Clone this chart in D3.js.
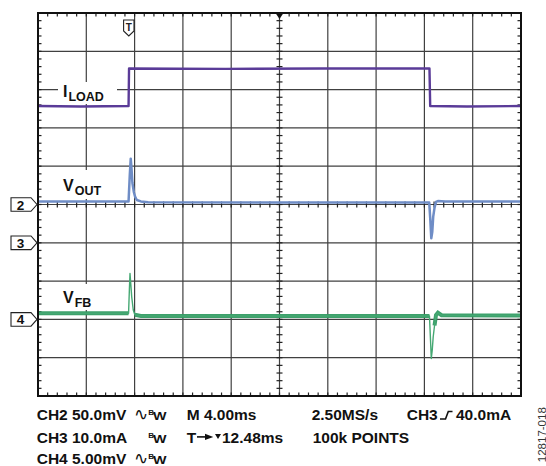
<!DOCTYPE html>
<html>
<head>
<meta charset="utf-8">
<script src="https://cdn.jsdelivr.net/npm/d3@7"></script>
<style>
  html, body { margin: 0; padding: 0; background: #fff; }
  svg { display: block; }
  text { font-family: "Liberation Sans", Arial, Helvetica, sans-serif; }
</style>
</head>
<body>
<svg id="scope" width="546" height="466"></svg>
<script>
// ---- Channel readings (time in ms from trigger) ----
// CH3: load current, mA
const iloadT = [-7.52, -4.0, -0.02, 0.02, 8.0, 16.0, 24.90, 24.96, 28.0, 32.48];
const iloadV = [35.7, 35.6, 35.7, 45.5, 45.4, 45.5, 45.5, 35.7, 35.6, 35.7];

// CH2: output voltage (AC coupled), mV
const voutT = [-7.52, -0.02, 0.08, 0.16, 0.22, 0.30, 0.42, 0.52, 0.66, 1.0, 1.6,
               24.88, 24.97, 25.05, 25.13, 25.21, 25.32, 25.44, 25.6, 26.2, 32.48];
const voutV = [4.0, 4.0, 38, 59.8, 48, 28.1, 16, 10.2, 5.9, 4.0, 2.8,
               2.6, -20, -44.1, -36, -15.9, -4, 3.3, 4.5, 4.0, 4.0];

// CH4: feedback voltage (AC coupled), mV
const vfbT = [-7.52, -0.02, 0.05, 0.10, 0.17, 0.24, 0.37, 0.5, 1.0,
              24.90, 24.98, 25.05, 25.13, 25.21, 25.32, 25.44, 25.6, 25.9, 32.48];
const vfbV = [0.8, 0.8, 4.0, 6.0, 4.5, 2.96, 1.23, 0.6, 0.45,
              0.45, -2.5, -5.1, -4.0, -2.26, -0.8, 0.57, 0.87, 0.55, 0.5];

// Channel settings: ground marker position (divisions from centre) and units per division
const channelNames = ["2", "3", "4"];
const channelOffsets = [0, -1, -3];
const channelScales = [50, 10, 5];   // mV/div, mA/div, mV/div

// Readout lines under the screen
const readoutRow1 = ["CH2 50.0mV", "M 4.00ms", "2.50MS/s", "CH3", "40.0mA"];
const readoutRow2 = ["CH3 10.0mA", "T", "12.48ms", "100k POINTS"];
const readoutRow3 = ["CH4 5.00mV"];
const timeWindow = [-7.52, 32.48];   // ms across the screen

// ---- Layout ----
const L = 38, R = 521, T = 13, B = 396;
const svg = d3.select("#scope");

const xDiv = d3.scaleLinear().domain([0, 10]).range([L, R]);
const yDiv = d3.scaleLinear().domain([-5, 5]).range([B, T]);
const xTime = d3.scaleLinear().domain(timeWindow).range([L, R]);
const chanY = (i) => d3.scaleLinear()
  .domain([0, channelScales[i]])
  .range([yDiv(channelOffsets[i]), yDiv(channelOffsets[i] + 1)]);

const yVout = chanY(0), yIload = chanY(1), yVfb = chanY(2);

const gridColor = "#404040";

// graticule lines
const grid = svg.append("g");
grid.selectAll("line.v").data(d3.range(1, 10)).join("line")
  .attr("x1", d => xDiv(d)).attr("x2", d => xDiv(d))
  .attr("y1", T).attr("y2", B)
  .attr("stroke", gridColor).attr("stroke-width", 1.2);
grid.selectAll("line.h").data(d3.range(-4, 5)).join("line")
  .attr("x1", L).attr("x2", R)
  .attr("y1", d => yDiv(d)).attr("y2", d => yDiv(d))
  .attr("stroke", gridColor).attr("stroke-width", 1.2);

// minor ticks (5 per division)
const ticks = svg.append("g").attr("stroke", "#222").attr("stroke-width", 1.2);
const xMinor = d3.range(1, 50).map(i => xDiv(i / 5));
const yMinor = d3.range(-24, 25).map(i => yDiv(i / 5));
const tl = 3.5;
xMinor.forEach(x => {
  ticks.append("line").attr("x1", x).attr("x2", x).attr("y1", T).attr("y2", T + tl);
  ticks.append("line").attr("x1", x).attr("x2", x).attr("y1", B).attr("y2", B - tl);
  ticks.append("line").attr("x1", x).attr("x2", x).attr("y1", yDiv(0) - 3).attr("y2", yDiv(0) + 3);
});
yMinor.forEach(y => {
  ticks.append("line").attr("x1", L).attr("x2", L + tl).attr("y1", y).attr("y2", y);
  ticks.append("line").attr("x1", R).attr("x2", R - tl).attr("y1", y).attr("y2", y);
  ticks.append("line").attr("x1", xDiv(5) - 3).attr("x2", xDiv(5) + 3).attr("y1", y).attr("y2", y);
});

// white backing behind trace labels
const boxes = [
  {x: 58, y: 82, w: 59, h: 22},
  {x: 46, y: 170, w: 64, h: 29},
  {x: 46, y: 284, w: 64, h: 26}
];
svg.append("g").selectAll("rect").data(boxes).join("rect")
  .attr("x", d => d.x).attr("y", d => d.y).attr("width", d => d.w).attr("height", d => d.h)
  .attr("fill", "#fff");

// traces
svg.append("clipPath").attr("id", "plotClip")
  .append("rect").attr("x", L).attr("y", T).attr("width", R - L).attr("height", B - T);
const traces = svg.append("g").attr("clip-path", "url(#plotClip)");

const zipPts = (ts, vs) => ts.map((t, i) => ({t, v: vs[i]}));

const iloadLine = d3.line().x(d => xTime(d.t)).y(d => yIload(d.v));
traces.append("path").datum(zipPts(iloadT, iloadV))
  .attr("d", iloadLine).attr("fill", "none")
  .attr("stroke", "#5a3b98").attr("stroke-width", 2.4).attr("stroke-linejoin", "round");

const voutLine = d3.line().x(d => xTime(d.t)).y(d => yVout(d.v));
traces.append("path").datum(zipPts(voutT, voutV))
  .attr("d", voutLine).attr("fill", "none")
  .attr("stroke", "#6f8dc6").attr("stroke-width", 2.5).attr("stroke-linejoin", "round");

// feedback trace: noisy baseline band plus the thin trace through the transients
const vfbPts = zipPts(vfbT, vfbV);
const vfbBand = d3.line().x(d => xTime(d.t)).y(d => yVfb(d.v)).defined(d => Math.abs(d.v) < 0.9);
traces.append("path").datum(vfbPts)
  .attr("d", vfbBand).attr("fill", "none")
  .attr("stroke", "#339b63").attr("stroke-width", 4).attr("stroke-opacity", 0.95);
const vfbLine = d3.line().x(d => xTime(d.t)).y(d => yVfb(d.v));
traces.append("path").datum(vfbPts)
  .attr("d", vfbLine).attr("fill", "none")
  .attr("stroke", "#45a873").attr("stroke-width", 1.4).attr("stroke-linejoin", "round");

// screen border
svg.append("rect").attr("x", L).attr("y", T).attr("width", R - L).attr("height", B - T)
  .attr("fill", "none").attr("stroke", "#111").attr("stroke-width", 2);

// trigger position marker (T icon) and horizontal centre marker
const tx = xTime(0);
const trig = svg.append("g");
trig.append("path")
  .attr("d", `M${tx - 5.2},20 H${tx + 5.2} V31 L${tx},36 L${tx - 5.2},31 Z`)
  .attr("fill", "#fff").attr("stroke", "#222").attr("stroke-width", 1.1);
trig.append("text").attr("x", tx).attr("y", 30.5).attr("text-anchor", "middle")
  .attr("font-size", 10).attr("font-weight", "bold").attr("fill", "#222").text("T");
svg.append("path")
  .attr("d", `M${xDiv(5) - 4},${T} L${xDiv(5) + 4},${T} L${xDiv(5)},${T + 6} Z`)
  .attr("fill", "#111");

// trace labels
function traceLabel(x, y, main, sub) {
  const t = svg.append("text").attr("x", x).attr("y", y)
    .attr("font-weight", "bold").attr("font-size", 16).attr("fill", "#111");
  t.append("tspan").text(main);
  t.append("tspan").attr("dy", 4).attr("dx", 1).attr("font-size", 12.5).text(sub);
}
traceLabel(63, 97, "I", "LOAD");
traceLabel(63, 190.7, "V", "OUT");
traceLabel(63, 303.3, "V", "FB");

// channel ground markers
const markers = svg.append("g");
channelNames.forEach((name, i) => {
  const y = yDiv(channelOffsets[i]);
  markers.append("path")
    .attr("d", `M11,${y - 6.8} H31 L37,${y} L31,${y + 6.8} H11 Z`)
    .attr("fill", "#fff").attr("stroke", "#222").attr("stroke-width", 1.1);
  markers.append("text").attr("x", 20.5).attr("y", y + 5).attr("text-anchor", "middle")
    .attr("font-size", 13.5).attr("font-weight", "bold").attr("fill", "#111").text(name);
});

// readout
const ro = svg.append("g").attr("font-weight", "bold").attr("font-size", 15.5).attr("fill", "#111");
const put = (x, y, s) => ro.append("text").attr("x", x).attr("y", y).text(s);
const rowY = [420, 442.7, 464];

put(36.7, rowY[0], readoutRow1[0]);
put(186.7, rowY[0], readoutRow1[1]);
put(311.7, rowY[0], readoutRow1[2]);
put(406.7, rowY[0], readoutRow1[3]);
put(456, rowY[0], readoutRow1[4]);

put(36.7, rowY[1], readoutRow2[0]);
put(186.7, rowY[1], readoutRow2[1]);
put(222, rowY[1], readoutRow2[2]);
put(312.7, rowY[1], readoutRow2[3]);

put(36.7, rowY[2], readoutRow3[0]);

// AC coupling and bandwidth-limit glyphs
[0, 2].forEach(r => {
  svg.append("text").attr("x", 133.5).attr("y", rowY[r] - 0.5)
    .attr("font-family", "DejaVu Sans").attr("font-size", 17).attr("fill", "#111").text("∿");
});
[0, 1, 2].forEach(r => {
  svg.append("text").attr("x", 148.3).attr("y", rowY[r] - 5)
    .attr("font-weight", "bold").attr("font-size", 8).attr("fill", "#111").text("B");
  svg.append("text").attr("x", 153).attr("y", rowY[r])
    .attr("font-weight", "bold").attr("font-size", 10.5).attr("fill", "#111")
    .attr("textLength", 13.5).attr("lengthAdjust", "spacingAndGlyphs").text("W");
});

// rising-edge trigger glyph
svg.append("path")
  .attr("d", `M440,${rowY[0] - 1} H445.5 L448.3,${rowY[0] - 8.5} H452.5`)
  .attr("fill", "none").attr("stroke", "#111").attr("stroke-width", 1.6);

// trigger-delay arrow and pointer
const ay = rowY[1] - 5.8;
svg.append("line").attr("x1", 197).attr("x2", 206).attr("y1", ay).attr("y2", ay)
  .attr("stroke", "#111").attr("stroke-width", 1.6);
svg.append("path").attr("d", `M205,${ay - 3.2} L213.3,${ay} L205,${ay + 3.2} Z`).attr("fill", "#111");
svg.append("path").attr("d", `M215,${ay - 3} L221,${ay - 3} L218,${ay + 2} Z`).attr("fill", "#111");

// figure number
svg.append("text")
  .attr("transform", "translate(545.5,434.7) rotate(-90)")
  .attr("text-anchor", "middle").attr("font-size", 11.5).attr("fill", "#333")
  .text("12817-018");
</script>
</body>
</html>
